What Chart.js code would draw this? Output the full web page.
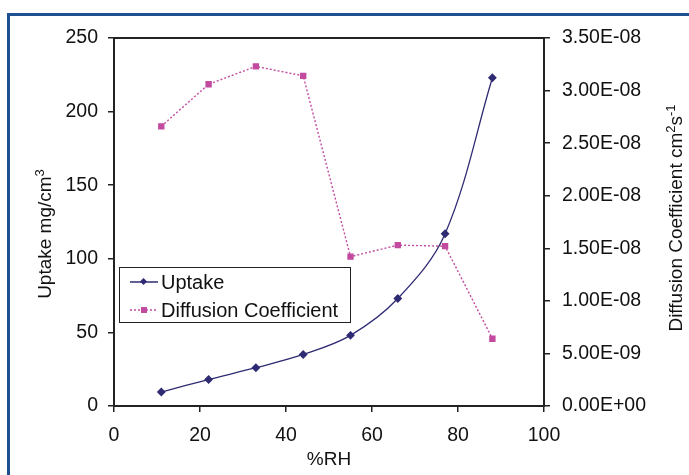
<!DOCTYPE html>
<html>
<head>
<meta charset="utf-8">
<script src="https://cdn.jsdelivr.net/npm/chart.js@4.4.0/dist/chart.umd.min.js"></script>
<style>
    body { margin: 0; background: #fff; }
    #wrap { position: relative; width: 689px; height: 475px; overflow: hidden;
            font-family: "Liberation Sans", Arial, sans-serif; color: #111; }
    #frame { position: absolute; left: 7px; top: 13px; width: 700px; height: 480px;
             border-left: 3px solid #1d4f91; border-top: 3px solid #1d4f91; }
    #legend { position: absolute; left: 119px; top: 267px; width: 230px; height: 54px;
              border: 1px solid #222; background: #fff; font-size: 20px; }
    #legend div { height: 28px; display: flex; align-items: center; margin-left: 10px; }
    #legend svg { margin-right: 3px; }
    .ytitle { position: absolute; white-space: nowrap; font-size: 19px;
              transform: translate(-50%, -50%) rotate(-90deg); }
    .ytitle sup { font-size: 13px; vertical-align: 7px; line-height: 0; }
</style>
</head>
<body>
<div id="wrap">
    <div id="frame"></div>
    <canvas id="chart" width="689" height="475"></canvas>
    <div class="ytitle" style="left:45px; top:234px">Uptake mg/cm<sup>3</sup></div>
    <div class="ytitle" style="left:676px; top:218px">Diffusion Coefficient cm<sup>2</sup>s<sup>-1</sup></div>
    <div id="legend">
        <div><svg width="28" height="10"><line x1="0" y1="5" x2="28" y2="5" stroke="#2f2b73" stroke-width="1.5"/><rect x="11" y="2" width="5" height="5" fill="#2f2b73" transform="rotate(45 13.5 4.5)"/></svg>Uptake</div>
        <div><svg width="28" height="10"><line x1="0" y1="5" x2="28" y2="5" stroke="#c24ba0" stroke-width="1.5" stroke-dasharray="2,2"/><rect x="11" y="2" width="6" height="6" fill="#c24ba0"/></svg>Diffusion Coefficient</div>
    </div>
</div>
<script>
// data
const rh = [11, 22, 33, 44, 55, 66, 77, 88];
const uptake = [9.5, 18, 26, 35, 48, 73, 117, 223];
const diffusion = [2.66e-8, 3.06e-8, 3.23e-8, 3.14e-8, 1.42e-8, 1.53e-8, 1.52e-8, 0.64e-8];

const leftTicks = [0, 50, 100, 150, 200, 250];
const rightTicks = ['0.00E+00', '5.00E-09', '1.00E-08', '1.50E-08', '2.00E-08', '2.50E-08', '3.00E-08', '3.50E-08'];

const axisFont = { family: '"Liberation Sans", Arial, sans-serif', size: 19.5 };
const titleFont = { family: '"Liberation Sans", Arial, sans-serif', size: 19 };

// box round the plot area
const frameBox = {
    id: 'frameBox',
    afterDraw(chart) {
        const a = chart.chartArea, ctx = chart.ctx;
        ctx.save();
        ctx.strokeStyle = '#222';
        ctx.lineWidth = 2;
        ctx.strokeRect(a.left, a.top, a.right - a.left, a.bottom - a.top);
        ctx.restore();
    }
};

const data = {
    datasets: [{
        label: 'Uptake',
        data: rh.map((x, i) => ({ x: x, y: uptake[i] })),
        yAxisID: 'y',
        borderColor: '#2f2b73',
        backgroundColor: '#2f2b73',
        borderWidth: 1.3,
        pointStyle: 'rectRot',
        pointRadius: 3.5,
        tension: 0.35
    }, {
        label: 'Diffusion Coefficient',
        data: rh.map((x, i) => ({ x: x, y: diffusion[i] })),
        yAxisID: 'y1',
        borderColor: '#c24ba0',
        backgroundColor: '#c24ba0',
        borderWidth: 1.4,
        borderDash: [2, 2],
        pointStyle: 'rect',
        pointRadius: 3.5,
        tension: 0
    }]
};

const config = {
    type: 'line',
    data: data,
    options: {
        responsive: false,
        animation: false,
        layout: { padding: { top: 38, left: 0, right: 0, bottom: 0 } },
        plugins: { legend: { display: false }, tooltip: { enabled: false } },
        scales: {
            x: {
                type: 'linear',
                min: 0, max: 100,
                afterFit: s => { s.height = 69; },
                ticks: { stepSize: 20, font: axisFont, color: '#111', padding: 12 },
                grid: { drawOnChartArea: false, tickLength: 6, color: '#222', lineWidth: 1.5 },
                border: { color: '#222', width: 2 },
                title: { display: true, text: '%RH', font: titleFont, color: '#111', padding: { top: 0, bottom: 4 } }
            },
            y: {
                position: 'left',
                min: 0, max: 250,
                afterFit: s => { s.width = 114; },
                afterBuildTicks: s => { s.ticks = leftTicks.map(v => ({ value: v })); },
                ticks: { font: axisFont, color: '#111', padding: 10 },
                grid: { drawOnChartArea: false, tickLength: 6, color: '#222', lineWidth: 1.5 },
                border: { color: '#222', width: 2 }
            },
            y1: {
                position: 'right',
                min: 0, max: 3.5e-8,
                afterFit: s => { s.width = 145; },
                afterBuildTicks: s => { s.ticks = rightTicks.map((t, i) => ({ value: i * 5e-9 })); },
                ticks: { font: axisFont, color: '#111', padding: 12,
                         callback: (v, i) => rightTicks[i] },
                grid: { drawOnChartArea: false, tickLength: 6, color: '#222', lineWidth: 1.5 },
                border: { color: '#222', width: 2 }
            }
        }
    },
    plugins: [frameBox]
};

var myChart = new Chart(document.getElementById('chart'), config);
</script>
</body>
</html>
